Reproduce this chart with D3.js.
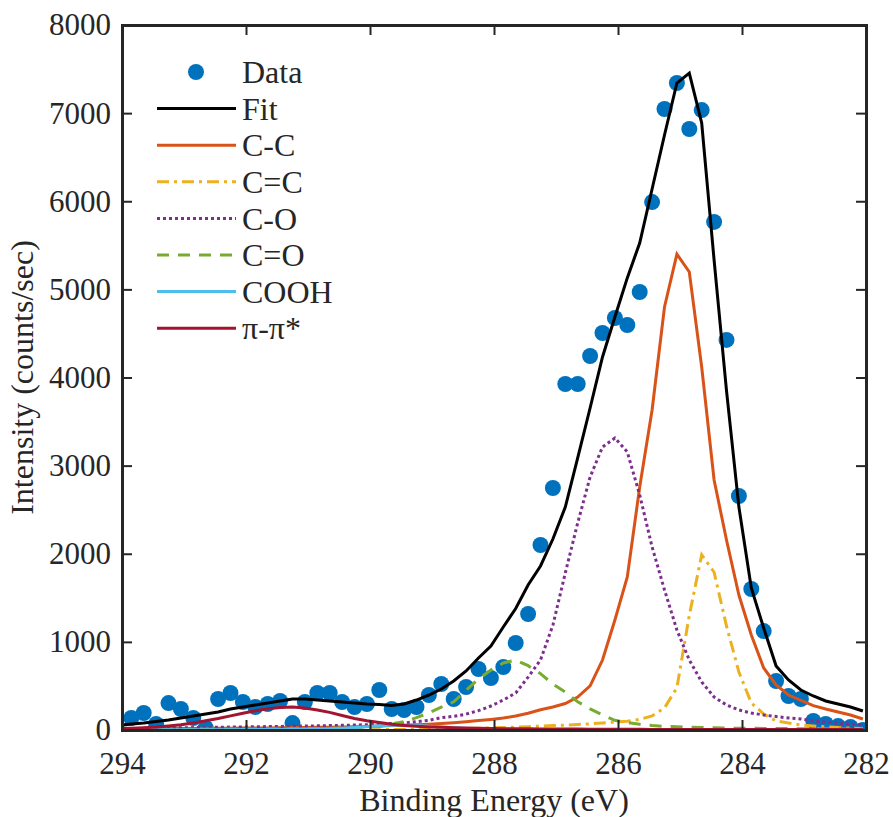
<!DOCTYPE html>
<html>
<head>
<meta charset="utf-8">
<script src="https://cdn.jsdelivr.net/npm/d3@7/dist/d3.min.js"></script>
<style>
  body { margin: 0; background: #fff; }
  text { font-family: "Liberation Serif", "Times New Roman", serif; fill: #262626; }
</style>
</head>
<body>
<div id="chart"></div>
<script>
// XPS C1s spectrum with peak fitting

// binding energy grid (eV), 294.05 -> 282.05 in 0.2 steps
var energy = [294.05,293.85,293.65,293.45,293.25,293.05,292.85,292.65,292.45,292.25,
  292.05,291.85,291.65,291.45,291.25,291.05,290.85,290.65,290.45,290.25,
  290.05,289.85,289.65,289.45,289.25,289.05,288.85,288.65,288.45,288.25,
  288.05,287.85,287.65,287.45,287.25,287.05,286.85,286.65,286.45,286.25,
  286.05,285.85,285.65,285.45,285.25,285.05,284.85,284.65,284.45,284.25,
  284.05,283.85,283.65,283.45,283.25,283.05,282.85,282.65,282.45,282.25,282.05];

// measured counts (first grid point has no measurement)
var counts = [null,136,193,68,306,238,136,23,352,420,
  318,261,295,329,79,318,420,420,318,261,
  295,454,238,227,261,397,522,352,488,692,
  590,715,987,1316,2099,2746,3926,3926,4244,4505,
  4675,4596,4970,5991,7047,7342,6820,7035,5765,4426,
  2655,1600,1123,556,386,352,102,68,45,34,0];

var fit = [51,68,79,96,113,136,159,182,204,238,
  261,284,306,329,352,352,340,329,318,306,
  295,289,278,295,340,397,465,556,670,817,
  953,1169,1379,1645,1861,2167,2530,3087,3654,4233,
  4687,5130,5526,6139,6752,7342,7455,6888,5333,3850,
  2530,1611,1157,726,567,454,386,329,295,261,216];

var cc = [15,15,16,16,17,18,18,19,20,21,
  22,23,24,25,27,28,30,32,34,37,
  40,45,50,55,60,66,74,83,94,107,
  120,136,158,190,230,261,300,374,500,794,
  1248,1736,2757,3631,4800,5400,5197,4119,2837,2156,
  1532,1078,704,511,397,336,277,238,204,170,125];

var ccDouble = [0,0,0,0,0,0,0,0,0,0,
  0,0,1,1,1,1,2,2,2,3,
  3,4,5,6,8,10,12,14,17,20,
  24,28,33,38,44,50,56,62,70,80,
  90,100,120,160,250,480,1300,1990,1790,1180,
  658,306,182,102,79,57,45,35,28,22,18];

var co = [15,17,19,21,23,25,27,29,31,33,
  35,37,39,41,43,45,47,50,53,56,
  60,65,75,80,95,110,140,155,180,220,
  272,340,420,600,794,1190,1782,2349,2871,3211,
  3313,3155,2667,2077,1589,1135,794,545,374,284,
  227,193,170,153,136,125,102,91,79,68,57];

var cDoubleO = [5,5,6,6,7,7,8,8,9,10,
  11,12,13,14,15,16,17,19,22,28,
  34,40,65,95,140,195,260,320,450,580,
  680,760,794,730,640,520,430,320,240,170,
  110,85,65,50,42,36,32,28,25,22,
  20,19,18,17,16,15,14,14,13,12,12];

var cooh = [2,2,2,2,3,3,3,3,4,4,
  5,5,6,7,8,10,12,15,20,28,
  38,48,55,55,50,42,33,25,18,13,
  10,8,7,6,5,5,4,4,4,3,
  3,3,3,3,3,2,2,2,2,2,
  2,2,2,2,2,2,1,1,1,1,1];

var pipi = [15,20,26,33,45,60,80,105,130,160,
  190,218,240,255,261,250,228,200,165,130,
  105,85,65,52,42,35,30,26,22,19,
  16,15,14,13,12,11,10,10,9,9,
  8,8,8,7,7,7,7,6,6,6,
  6,6,5,5,5,5,5,5,5,5,5];

var xTicks = [294, 292, 290, 288, 286, 284, 282];
var yTicks = [0, 1000, 2000, 3000, 4000, 5000, 6000, 7000, 8000];

var series = [
  {name: "Fit",  values: fit,      color: "#000000", dash: null},
  {name: "C-C",  values: cc,       color: "#D95319", dash: null},
  {name: "C=C",  values: ccDouble, color: "#EDB120", dash: "12,5,3,5"},
  {name: "C-O",  values: co,       color: "#7E2F8E", dash: "3,3"},
  {name: "C=O",  values: cDoubleO, color: "#77AC30", dash: "12,9"},
  {name: "COOH", values: cooh,     color: "#4DBEEE", dash: null},
  {name: "\u03C0-\u03C0*", values: pipi, color: "#A2142F", dash: null}
];

var width = 893, height = 817;
var margin = {left: 122, top: 25, right: 27, bottom: 87};
var innerW = width - margin.left - margin.right,
    innerH = height - margin.top - margin.bottom;

var svg = d3.select("#chart").append("svg")
    .attr("width", width)
    .attr("height", height);

svg.append("defs").append("clipPath").attr("id", "clip")
  .append("rect").attr("width", innerW).attr("height", innerH);

var g = svg.append("g").attr("transform", "translate(" + margin.left + "," + margin.top + ")");

var x = d3.scaleLinear().domain([294, 282]).range([0, innerW]);
var y = d3.scaleLinear().domain([0, 8000]).range([innerH, 0]);

var plot = g.append("g").attr("clip-path", "url(#clip)");

// data markers
plot.selectAll("circle.pt")
  .data(energy.map(function(e, i){ return {e: e, v: counts[i]}; })
    .filter(function(d){ return d.v !== null && d.e <= 294; }))
  .enter().append("circle")
    .attr("class", "pt")
    .attr("cx", function(d){ return x(d.e); })
    .attr("cy", function(d){ return y(d.v); })
    .attr("r", 8)
    .attr("fill", "#0072BD");

var line = d3.line()
    .x(function(d){ return x(d[0]); })
    .y(function(d){ return y(d[1]); });

series.forEach(function(s){
  plot.append("path")
    .datum(energy.map(function(e, i){ return [e, s.values[i]]; }))
    .attr("d", line)
    .attr("fill", "none")
    .attr("stroke", s.color)
    .attr("stroke-width", 3)
    .attr("stroke-dasharray", s.dash);
});

// axes with inward ticks, box on
var tickFont = "31px";
var xAxis = g.append("g").attr("transform", "translate(0," + innerH + ")")
  .call(d3.axisBottom(x).tickValues(xTicks).tickSize(-10).tickPadding(22).tickFormat(d3.format("d")));
var xTop = g.append("g")
  .call(d3.axisTop(x).tickValues(xTicks).tickSize(-10).tickFormat(""));
var yAxis = g.append("g")
  .call(d3.axisLeft(y).tickValues(yTicks).tickSize(-10).tickPadding(11).tickFormat(d3.format("d")));
var yRight = g.append("g").attr("transform", "translate(" + innerW + ",0)")
  .call(d3.axisRight(y).tickValues(yTicks).tickSize(-10).tickFormat(""));

[xAxis, xTop, yAxis, yRight].forEach(function(a){
  a.select(".domain").attr("stroke", "#262626").attr("stroke-width", 3);
  a.selectAll(".tick line").attr("stroke", "#262626").attr("stroke-width", 2);
  a.selectAll("text").style("font-size", tickFont)
    .style("font-family", "'Liberation Serif', serif").attr("fill", "#262626");
});

// axis labels
g.append("text")
  .attr("x", innerW / 2)
  .attr("y", innerH + 81)
  .attr("text-anchor", "middle")
  .style("font-size", "32px")
  .text("Binding Energy (eV)");

g.append("text")
  .attr("transform", "translate(" + (-89) + "," + (innerH / 2) + ") rotate(-90)")
  .attr("text-anchor", "middle")
  .style("font-size", "32px")
  .text("Intensity (counts/sec)");

// legend
var legend = g.append("g").attr("transform", "translate(35,47)");
var entries = [{name: "Data", marker: true}].concat(series);
entries.forEach(function(s, i){
  var row = legend.append("g").attr("transform", "translate(0," + (i * 36.6) + ")");
  if (s.marker) {
    row.append("circle").attr("cx", 39).attr("cy", 0).attr("r", 8).attr("fill", "#0072BD");
  } else {
    row.append("line")
      .attr("x1", 0).attr("x2", 79).attr("y1", 0).attr("y2", 0)
      .attr("stroke", s.color).attr("stroke-width", 3)
      .attr("stroke-dasharray", s.dash);
  }
  row.append("text")
    .attr("x", 85).attr("y", 0).attr("dy", "0.35em")
    .style("font-size", "32px")
    .text(s.name);
});
</script>
</body>
</html>
